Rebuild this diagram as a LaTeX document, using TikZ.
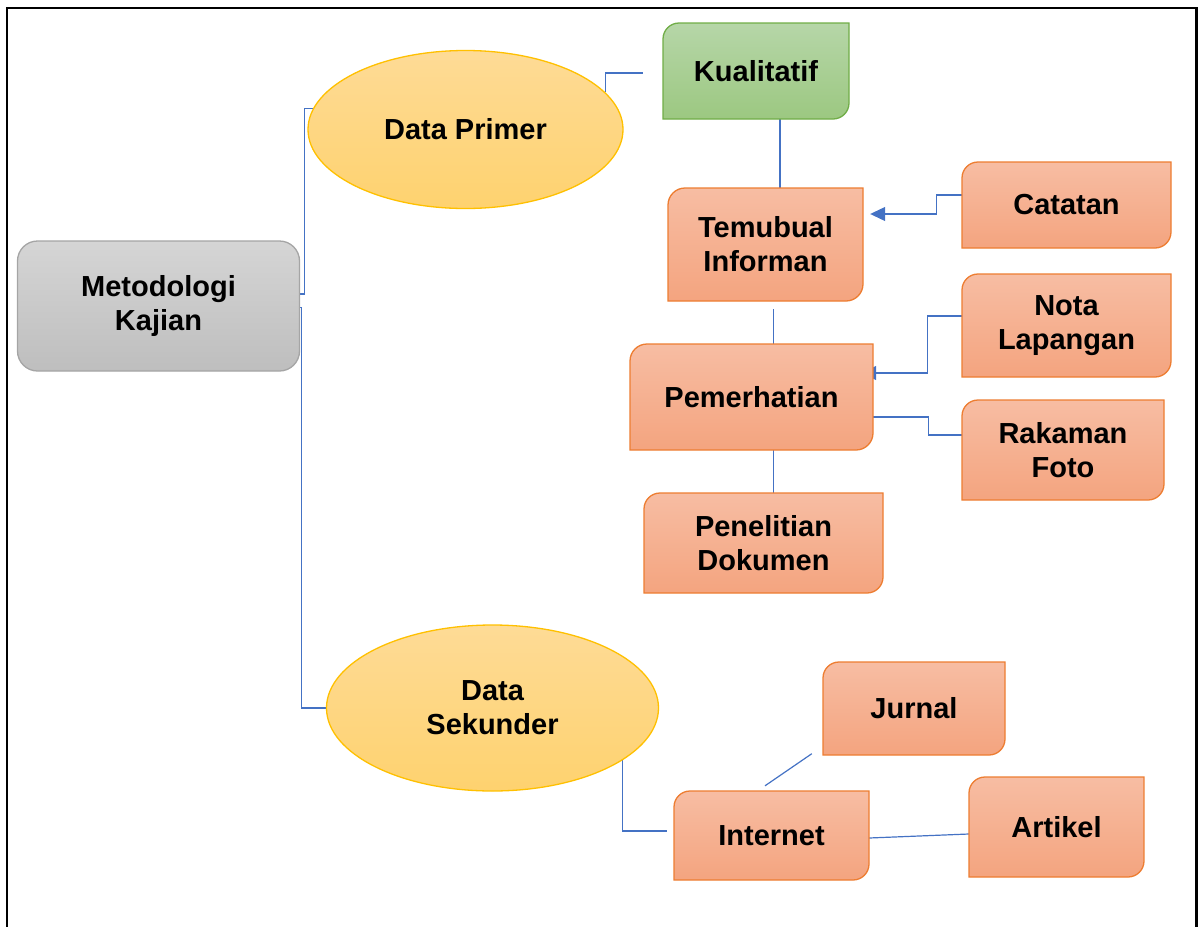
\documentclass[tikz,border=0pt]{standalone}
\usepackage{fontspec}
\setmainfont{Liberation Sans}
\usetikzlibrary{shapes.geometric,arrows.meta,calc}
\pgfdeclarelayer{bg}
\pgfsetlayers{bg,main}
\definecolor{linkc}{HTML}{4472C4}
\definecolor{oTop}{HTML}{F7BDA3}
\definecolor{oBot}{HTML}{F4A47F}
\definecolor{oLine}{HTML}{ED7D31}
\definecolor{gTop}{HTML}{B6D6A8}
\definecolor{gBot}{HTML}{9CC881}
\definecolor{gLine}{HTML}{70AD47}
\definecolor{yTop}{HTML}{FEDB96}
\definecolor{yBot}{HTML}{FED26F}
\definecolor{yLine}{HTML}{FFC000}
\definecolor{kTop}{HTML}{D5D5D5}
\definecolor{kBot}{HTML}{BEBEBE}
\definecolor{kLine}{HTML}{A5A5A5}
\tikzset{
  txt/.style={font=\bfseries\fontsize{29}{34}\selectfont, align=center, inner sep=0pt},
  orangebox/.style={top color=oTop, bottom color=oBot, draw=oLine, line width=1.3pt},
  greenbox/.style={top color=gTop, bottom color=gBot, draw=gLine, line width=1.3pt},
  yellowell/.style={ellipse, top color=yTop, bottom color=yBot, draw=yLine, line width=1.3pt, inner sep=0pt},
  graybox/.style={rounded corners=20pt, top color=kTop, bottom color=kBot, draw=kLine, line width=1.3pt, inner sep=0pt},
  link/.style={draw=linkc, line width=1.2pt},
  tip/.style={-{Triangle[length=15pt,width=14pt]}},
}
\newcommand\diagbox[8]{%
  \path[#7] (#2,#5) -- (#2,#3+#6) arc[start angle=180,end angle=270,radius=#6] -- (#4,#3) -- (#4,#5-#6) arc[start angle=0,end angle=90,radius=#6] -- cycle;
  \node[txt, minimum width={(#4-#2)*1pt}, minimum height={(#5-#3)*1pt}] (#1) at ({(#2+#4)/2},{(#3+#5)/2}) {#8};
}
\begin{document}
\begin{tikzpicture}[x=1pt,y=-1pt]
\useasboundingbox (0,0) rectangle (1203,927);
% outer frame
\draw[line width=2.2pt] (7,927) -- (7,8) -- (1196.5,8) -- (1196.5,927);

% main node
\node[graybox, txt, minimum width=282pt, minimum height=130pt] (mk) at (158.5,306) {Metodologi\\Kajian};

% ellipses
\node[yellowell, txt, minimum width=315pt, minimum height=158pt] (dp) at (465.5,129.5) {Data Primer};
\node[yellowell, txt, minimum width=332pt, minimum height=166pt] (ds) at (492.5,708) {Data\\Sekunder};

% boxes
\diagbox{kual}{663}{23}{849}{119}{16}{greenbox}{Kualitatif}
\diagbox{tem}{668}{188}{863}{301}{17}{orangebox}{Temubual\\Informan}
\diagbox{cat}{962}{162}{1171}{248}{16}{orangebox}{Catatan}
\diagbox{nota}{962}{274}{1171}{377}{16}{orangebox}{Nota\\Lapangan}
\diagbox{pem}{630}{344}{873}{450}{17}{orangebox}{Pemerhatian}
\diagbox{rak}{962}{400}{1164}{500}{16}{orangebox}{Rakaman\\Foto}
\diagbox{pen}{644}{493}{883}{593}{16}{orangebox}{Penelitian\\Dokumen}
\diagbox{jur}{823}{662}{1005}{755}{16}{orangebox}{Jurnal}
\diagbox{inet}{674}{791}{869}{880}{16}{orangebox}{Internet}
\diagbox{art}{969}{777}{1144}{877}{16}{orangebox}{Artikel}

\begin{pgfonlayer}{bg}
% Metodologi -> Data Primer / Data Sekunder
\draw[link] ($(mk.east)+(0,-12)$) -- ++(4.5,0) |- (dp.172);
\draw[link] ($(mk.east)+(0,1.5)$) -- ++(1.5,0) |- (ds.west);
% Data Primer -> Kualitatif
\draw[link] (dp.15) |- ($(kual.west)+(-20,2)$);
% Kualitatif -> Temubual
\draw[link] ([xshift=24pt]kual.south) -- ([xshift=24pt]kual.south |- tem.north);
% Catatan -> Temubual
\draw[link,tip] ($(cat.west)+(0,-10)$) -- ++(-25,0) |- ($(tem.east)+(7,-30.5)$);
% Temubual -> Pemerhatian
\draw[link] ([xshift=8pt,yshift=-8pt]tem.south) -- ([xshift=8pt]tem.south |- pem.north);
% Nota Lapangan -> Pemerhatian
\draw[link,tip] ($(nota.west)+(0,-9.5)$) -- ++(-34,0) |- ($(pem.east)+(-12,-24)$);
% Pemerhatian -> Rakaman Foto
\draw[link] ($(pem.east)+(0,20)$) -- ++(55,0) |- ($(rak.west)+(0,-15)$);
% Pemerhatian -> Penelitian Dokumen
\draw[link] ([xshift=22pt]pem.south) -- ([xshift=22pt]pem.south |- pen.north);
% Data Sekunder -> Internet
\draw[link] (ds.-22) |- ($(inet.west)+(-7,-4.5)$);
% Internet -> Jurnal / Artikel
\draw[link] ($(inet.north)+(-6.5,-5)$) -- ($(jur.south west)+(-11,-1.5)$);
\draw[link] ($(inet.east)+(0,2.5)$) -- ($(art.west)+(0,7)$);
\end{pgfonlayer}
\end{tikzpicture}
\end{document}
